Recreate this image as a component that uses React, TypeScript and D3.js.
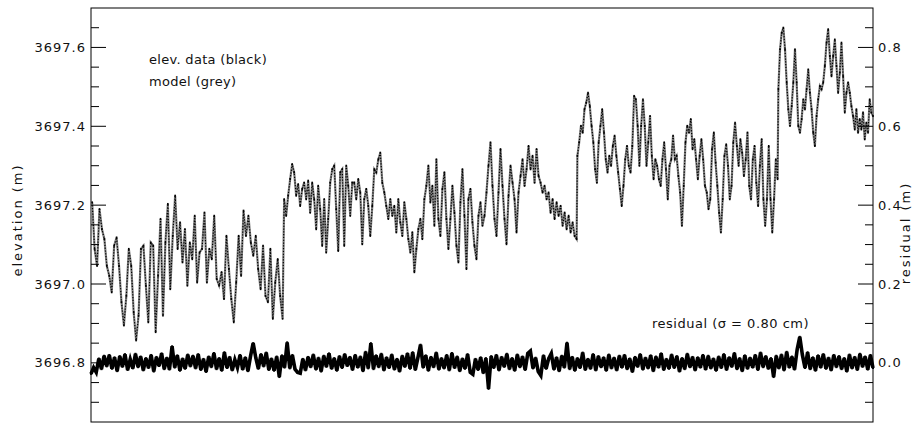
import React from "react";
import * as d3 from "d3";

// elevations are stored as metres above this datum
const DATUM = 3697.0;

// time (arbitrary units, 0-100) where each survey pass starts and ends
const passStart = [0.15, 24.7, 62.2, 87.9];
const passEnd = [24.5, 62.1, 87.8, 100];

const passA = [
  0.207, 0.089, 0.046, 0.19, 0.139, 0.114, 0.046, 0.021, -0.021, 0.097,
  0.118, 0.046, -0.046, -0.105, -0.03, 0.089, 0.046, -0.072, -0.143, -0.08,
  0.089, 0.097, -0.004, -0.097, 0.105, 0.097, -0.122, 0.021, 0.165, -0.08,
  0.105, 0.203, -0.013, 0.122, 0.224, 0.089, 0.156, 0.055, 0.139, -0.004,
  0.105, 0.063, 0.173, 0.004, 0.08, 0.089, 0.181, 0.004, 0.089, 0.063,
  0.173, 0.013, -0.004, 0.03, -0.038, 0.122, 0.038, -0.038, -0.097, 0.004,
  0.122, 0.021, 0.186, 0.122, 0.173, 0.105, 0.072, 0.122, 0.038, -0.013,
  0.097, -0.03, -0.046, 0.089, -0.088, 0.004, 0.063, -0.03, -0.088,
];

const passB = [
  0.215, 0.173, 0.224, 0.266, 0.304, 0.283, 0.224, 0.253, 0.198, 0.241,
  0.257, 0.215, 0.262, 0.181, 0.257, 0.215, 0.139, 0.249, 0.19, 0.097,
  0.215, 0.08, 0.165, 0.257, 0.291, 0.3, 0.19, 0.084, 0.283, 0.291,
  0.097, 0.3, 0.249, 0.173, 0.257, 0.257, 0.215, 0.266, 0.232, 0.101,
  0.215, 0.241, 0.198, 0.122, 0.198, 0.291, 0.283, 0.316, 0.333, 0.257,
  0.232, 0.198, 0.165, 0.215, 0.173, 0.198, 0.131, 0.215, 0.156, 0.122,
  0.207, 0.165, 0.114, 0.08, 0.131, 0.03, 0.089, 0.139, 0.165, 0.114,
  0.215, 0.249, 0.3, 0.207, 0.249, 0.148, 0.316, 0.165, 0.122, 0.241,
  0.283, 0.165, 0.089, 0.165, 0.249, 0.181, 0.097, 0.055, 0.207, 0.291,
  0.173, 0.038, 0.215, 0.241, 0.156, 0.097, 0.063, 0.173, 0.207,
  0.148, 0.173, 0.232, 0.3, 0.359, 0.249, 0.165, 0.122, 0.232, 0.342,
  0.249, 0.165, 0.101, 0.224, 0.3, 0.257, 0.215, 0.131, 0.232, 0.274,
  0.316, 0.249, 0.291, 0.35, 0.291, 0.325, 0.257, 0.342, 0.274, 0.257,
  0.232, 0.249, 0.215, 0.232, 0.181, 0.215, 0.165, 0.207, 0.173, 0.198,
  0.148, 0.181, 0.139, 0.173, 0.131, 0.156, 0.122, 0.114,
];

const passC = [
  0.325, 0.359, 0.401, 0.384, 0.443, 0.46, 0.485, 0.451, 0.401, 0.359,
  0.291, 0.257, 0.359, 0.401, 0.443, 0.384, 0.316, 0.283, 0.325, 0.3,
  0.35, 0.376, 0.325, 0.283, 0.241, 0.198, 0.249, 0.316, 0.35, 0.3,
  0.283, 0.35, 0.477, 0.468, 0.401, 0.3, 0.401, 0.468, 0.401, 0.3,
  0.359, 0.426, 0.325, 0.266, 0.316, 0.3, 0.266, 0.249, 0.316, 0.359,
  0.291, 0.215, 0.3, 0.316, 0.376, 0.316, 0.325, 0.274, 0.232, 0.148,
  0.249, 0.359, 0.401, 0.384, 0.418, 0.342, 0.367, 0.316, 0.266, 0.325,
  0.367, 0.316, 0.249, 0.232, 0.19, 0.215, 0.342, 0.384, 0.308, 0.249,
  0.181, 0.131, 0.215, 0.325, 0.354, 0.3, 0.215, 0.249, 0.359, 0.409,
  0.35, 0.3, 0.367, 0.333, 0.274, 0.316, 0.384, 0.249, 0.215, 0.316,
  0.35, 0.257, 0.198, 0.3, 0.367, 0.215, 0.148, 0.215, 0.35, 0.215,
  0.131, 0.215, 0.316, 0.266,
];

const passD = [
  0.494, 0.595, 0.637, 0.65, 0.595, 0.511, 0.443, 0.401, 0.451, 0.511,
  0.595, 0.511, 0.401, 0.384, 0.418, 0.468, 0.443, 0.494, 0.544, 0.485,
  0.443, 0.384, 0.35, 0.426, 0.468, 0.502, 0.494, 0.511, 0.553, 0.612,
  0.646, 0.578, 0.527, 0.578, 0.62, 0.553, 0.485, 0.536, 0.612, 0.527,
  0.435, 0.485, 0.511, 0.485, 0.451, 0.426, 0.392, 0.443, 0.384, 0.418,
  0.392, 0.435, 0.367, 0.409, 0.384, 0.468, 0.435, 0.426,
];

// residual (data - model), in cm, evenly spread over the whole record
const residualCm = [
  -2.8, -1.2, -2.4, 1.1, -1.6, 1.8, -0.9, 2.0, -1.5, 1.4, -2.1, 1.7, -1.0, 2.2, -1.8, 0.9, -1.4, 2.3, -1.1, 1.6,
  -1.9, 1.2, -1.3, 2.0, -2.2, 1.5, -0.8, 2.4, -1.6, 1.3, -1.7, 4.2, -1.2, 1.9, -2.0, 1.1, -1.5, 2.1, -0.9, 1.8,
  -1.4, 2.2, -1.8, 1.0, -2.3, 1.6, -1.1, 2.5, -1.6, 1.2, -2.0, 2.7, -1.3, 1.5, -1.9, 0.8, -1.2, 2.0, -1.7, 1.4,
  -2.1, 1.7, 5.0, 1.3, -1.5, 2.2, -0.9, 2.6, -1.8, 1.1, -2.0, 1.6, -3.6, 1.9, -1.2, 5.2, -1.4, 2.0, -1.6, -2.4,
  -2.6, 1.0, -1.9, 1.5, -1.1, 2.1, -1.7, 1.3, -2.2, 1.8, -1.0, 2.4, -1.5, 1.2, -2.0, 1.7, -1.3, 2.2, -0.8, 1.5,
  -1.8, 2.0, -1.2, 1.6, -2.1, 2.8, -1.4, 5.0, -1.6, 1.9, -1.1, 2.3, -1.9, 1.4, -1.3, 2.1, -1.7, 1.0, -2.2, 1.8,
  -1.0, 2.4, -1.5, 2.7, -1.8, 1.3, 4.6, -1.2, 1.9, -2.0, 1.5, -1.1, 2.6, -1.7, 1.2, -1.4, 2.0, -1.9, 2.5, -1.3,
  1.6, -2.1, 1.1, -1.5, 2.2, -2.4, -2.9, 1.0, -1.8, 1.4, -2.6, 1.2, -6.6, 1.7, -1.3, 2.0, -1.9, 1.5, -1.0, 2.3,
  -1.6, 1.2, -2.0, 2.1, -1.1, 1.6, -1.8, 2.4, 3.0, -1.4, 1.3, -2.2, -3.2, 1.9, -1.5, 1.1, 2.4, -1.7, 1.4, -2.1,
  1.8, -1.2, 5.1, -1.6, 1.5, -2.0, 1.2, -1.3, 2.6, -1.8, 1.0, -1.5, 2.2, -1.9, 1.7, -1.1, 1.4, -2.0, 2.1, -1.4,
  1.3, -1.9, 1.8, -1.2, 2.0, -1.6, 1.1, -2.3, 1.5, -1.0, 2.2, -1.7, 1.3, -1.4, 1.9, -2.1, 1.6, -1.2, 2.4, -1.8,
  1.0, -1.5, 2.1, -1.3, 1.7, -2.2, 1.2, -1.6, 2.3, -1.1, 1.5, -1.9, 1.4, -1.2, 2.0, -1.7, 1.8, -1.4, 1.1, -2.0,
  1.6, -1.3, 2.2, -1.8, 1.4, -1.0, 2.5, -1.6, 1.2, -2.1, 1.9, -1.5, 1.3, -1.2, 2.0, -1.8, 2.6, -1.1, 1.7, -1.5,
  1.2, -3.6, 1.8, -1.4, 2.1, -1.9, 2.8, -1.2, 1.6, -1.7, 3.4, 6.6, 2.0, -1.3, 2.7, -1.6, 1.4, -2.0, 1.9, -1.2,
  2.2, -1.5, 1.3, -1.9, 2.0, -1.1, 1.7, -1.6, 1.2, -2.2, 2.1, -1.4, 1.5, -1.8, 2.3, -1.0, 1.6, -1.7, 2.0, -1.3,
];

const elevTicks = [3696.8, 3697.0, 3697.2, 3697.4, 3697.6];
const residTicks = [0.0, 0.2, 0.4, 0.6, 0.8];

const width = 917;
const height = 426;
const margin = { top: 8, right: 44, bottom: 4, left: 91 };
const font = "'DejaVu Sans', sans-serif";

export default function App() {
  const x = d3.scaleLinear().domain([0, 100]).range([margin.left, width - margin.right]);
  const y = d3.scaleLinear().domain([3696.65, 3697.7]).range([height - margin.bottom, margin.top]);
  const yR = d3.scaleLinear().domain([-0.15, 0.9]).range([height - margin.bottom, margin.top]);

  const elev = [passA, passB, passC, passD].flatMap((vals, p) =>
    vals.map((v, i) => ({
      t: passStart[p] + ((passEnd[p] - passStart[p]) * i) / (vals.length - 1),
      v: DATUM + v,
    }))
  );
  const resid = residualCm.map((c, i) => ({
    t: (100 * i) / (residualCm.length - 1),
    r: c / 100,
  }));

  const elevLine = d3.line<{ t: number; v: number }>().x((d) => x(d.t)).y((d) => y(d.v));
  const residLine = d3.line<{ t: number; r: number }>().x((d) => x(d.t)).y((d) => yR(d.r));

  const isMajor = (v: number, majors: number[]) => majors.some((m) => Math.abs(m - v) < 1e-6);
  const minorL = d3.range(0, 22).map((k) => 3696.65 + k * 0.05).filter((v) => v > 3696.66 && v < 3697.69 && !isMajor(v, elevTicks));
  const minorR = d3.range(0, 22).map((k) => -0.15 + k * 0.05).filter((v) => v > -0.14 && v < 0.89 && !isMajor(v, residTicks));

  const x0 = margin.left;
  const x1 = width - margin.right;
  const path = elevLine(elev) || "";

  return (
    <svg width={width} height={height} style={{ position: "absolute", left: 0, top: 0, background: "#fff" }}>
      <rect x={x0} y={margin.top} width={x1 - x0} height={height - margin.top - margin.bottom} fill="none" stroke="#000" strokeWidth={1} />

      {/* model (grey) */}
      <path d={path} fill="none" stroke="#808080" strokeWidth={2.2} />
      {/* data (black, dotted samples) */}
      <path d={path} fill="none" stroke="#000" strokeWidth={1.2} strokeDasharray="1.2 1.6" />
      {elev.map((d, i) => (
        <rect key={i} x={x(d.t) - 0.8} y={y(d.v) - 1} width={1.6} height={2} fill="#000" />
      ))}

      {/* residual */}
      <path d={residLine(resid) || ""} fill="none" stroke="#000" strokeWidth={3.6} />
      {resid.map((d, i) => (
        <rect key={i} x={x(d.t) - 1} y={yR(d.r) - 1} width={2} height={2} fill="#000" />
      ))}

      {/* left axis ticks */}
      {elevTicks.map((v) => (
        <g key={v}>
          <line x1={x0} x2={x0 + 15} y1={y(v)} y2={y(v)} stroke="#000" />
          <text x={x0 - 5} y={y(v)} dy="0.35em" textAnchor="end" fontFamily={font} fontSize={13} letterSpacing={1} fill="#111">
            {v.toFixed(1)}
          </text>
        </g>
      ))}
      {minorL.map((v) => (
        <line key={v} x1={x0} x2={x0 + 8} y1={y(v)} y2={y(v)} stroke="#000" />
      ))}

      {/* right axis ticks */}
      {residTicks.map((v) => (
        <g key={v}>
          <line x1={x1} x2={x1 - 15} y1={yR(v)} y2={yR(v)} stroke="#000" />
          <text x={x1 + 5} y={yR(v)} dy="0.35em" textAnchor="start" fontFamily={font} fontSize={13} letterSpacing={1} fill="#111">
            {v.toFixed(1)}
          </text>
        </g>
      ))}
      {minorR.map((v) => (
        <line key={v} x1={x1} x2={x1 - 8} y1={yR(v)} y2={yR(v)} stroke="#000" />
      ))}

      {/* axis titles */}
      <text transform={`translate(22,220) rotate(-90)`} textAnchor="middle" fontFamily={font} fontSize={13} letterSpacing={2} fill="#111">
        elevation (m)
      </text>
      <text transform={`translate(910,233) rotate(-90)`} textAnchor="middle" fontFamily={font} fontSize={13} letterSpacing={2} fill="#111">
        residual (m)
      </text>

      {/* annotations */}
      <text x={149} y={64} fontFamily={font} fontSize={13} letterSpacing={0.3} fill="#111">
        elev. data (black)
      </text>
      <text x={149} y={86} fontFamily={font} fontSize={13} letterSpacing={0.3} fill="#111">
        model (grey)
      </text>
      <text x={652} y={328} fontFamily={font} fontSize={13} letterSpacing={0.5} fill="#111">
        residual (σ = 0.80 cm)
      </text>
    </svg>
  );
}
